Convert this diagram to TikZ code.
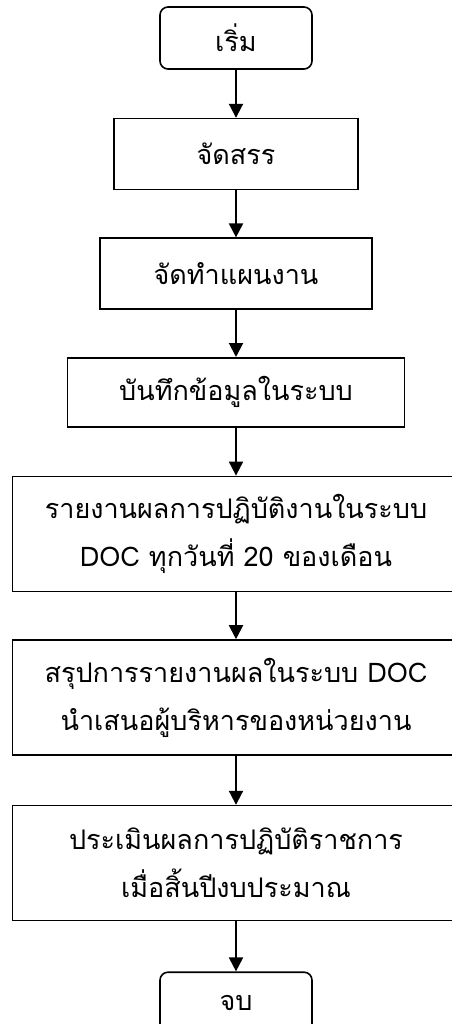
\documentclass[tikz,border=0pt]{standalone}
\usepackage{fontspec}
\newfontfamily\thaifont[Script=Thai]{Loma}
\usetikzlibrary{arrows.meta, positioning}

\begin{document}
\begin{tikzpicture}[x=1pt, y=1pt]
		\tikzstyle{StartStop} = [rectangle, rounded corners=8pt, minimum width=152pt, minimum height=62pt, text centered, draw=black, line width=1.6pt, font=\thaifont\fontsize{27}{48}\selectfont]
		\tikzstyle{StepBox} = [rectangle, minimum height=71pt, text centered, align=center, draw=black, line width=1.6pt, font=\thaifont\fontsize{27}{48}\selectfont]
		\tikzstyle{arrow} = [line width=2pt, -{Triangle[width=14pt, length=14pt]}]
		
		\useasboundingbox (0,0) rectangle (451,-1024);
		
		\node (start) [StartStop] at (236,-38) {เริ่ม};
		\node (allot) [StepBox, minimum width=244pt, below = 48pt of start] {จัดสรร};
		\node (plan) [StepBox, minimum width=272pt, below = 47pt of allot] {จัดทำแผนงาน};
		\node (record) [StepBox, minimum width=337pt, minimum height=69pt, below = 47pt of plan] {บันทึกข้อมูลในระบบ};
		\node (report) [StepBox, minimum width=447pt, minimum height=115pt, below = 48pt of record] {รายงานผลการปฏิบัติงานในระบบ\\DOC ทุกวันที่ 20 ของเดือน};
		\node (summary) [StepBox, minimum width=447pt, minimum height=115pt, below = 47pt of report] {สรุปการรายงานผลในระบบ DOC\\นำเสนอผู้บริหารของหน่วยงาน};
		\node (assess) [StepBox, minimum width=447pt, minimum height=115pt, below = 49pt of summary] {ประเมินผลการปฏิบัติราชการ\\เมื่อสิ้นปีงบประมาณ};
		\node (stop) [StartStop, below = 50pt of assess] {จบ};
		
		\draw[arrow] (start) -- (allot);
		\draw[arrow] (allot) -- (plan);
		\draw[arrow] (plan) -- (record);
		\draw[arrow] (record) -- (report);
		\draw[arrow] (report) -- (summary);
		\draw[arrow] (summary) -- (assess);
		\draw[arrow] (assess) -- (stop);
\end{tikzpicture}
\end{document}
